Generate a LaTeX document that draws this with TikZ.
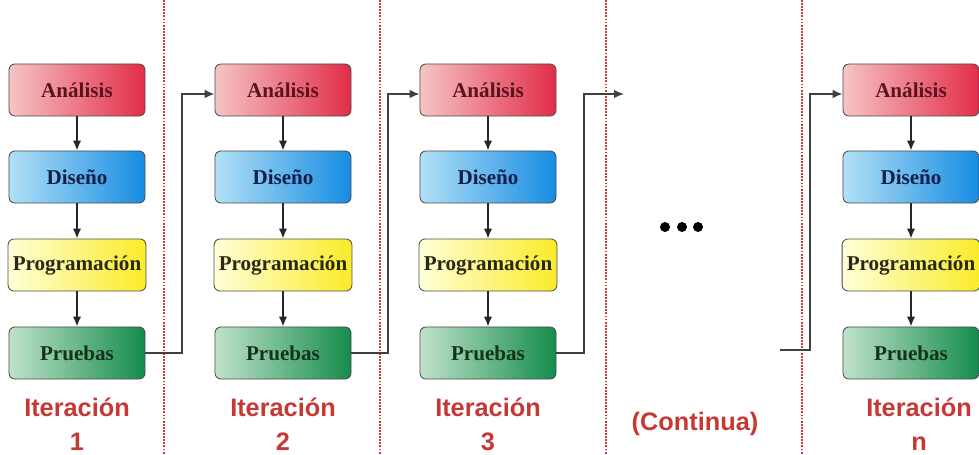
\documentclass[tikz,border=0pt]{standalone}
\usepackage{fontspec}
\usetikzlibrary{arrows.meta}
\setmainfont{Liberation Serif}
\newfontfamily\lblfont{Liberation Sans}

\definecolor{lblred}{RGB}{198,56,52}
\definecolor{sepred}{RGB}{205,60,60}

\tikzset{
  box/.style={draw=black!70,line width=0.6pt,rounded corners=0.15cm,
    minimum width=3.4cm,minimum height=1.3cm,
    font=\fontsize{15}{16}\selectfont\bfseries},
  anal/.style={box,left color={rgb,255:red,246;green,196;blue,196},
    right color={rgb,255:red,226;green,45;blue,72},text={rgb,255:red,90;green,20;blue,30}},
  dis/.style={box,left color={rgb,255:red,178;green,224;blue,246},
    right color={rgb,255:red,22;green,140;blue,226},text={rgb,255:red,20;green,30;blue,75}},
  prog/.style={box,left color={rgb,255:red,255;green,255;blue,216},
    right color={rgb,255:red,250;green,235;blue,40},text={rgb,255:red,40;green,40;blue,20}},
  prueb/.style={box,left color={rgb,255:red,192;green,226;blue,202},
    right color={rgb,255:red,20;green,140;blue,75},text={rgb,255:red,20;green,50;blue,30}},
  itlabel/.style={text=lblred,align=center,font=\lblfont\fontsize{18}{24}\selectfont\bfseries},
  sep/.style={sepred,line width=1pt,dash pattern=on 1.3pt off 0.9pt},
  flow/.style={->,black!85,line width=1.3pt},
  link/.style={black!75,line width=1.1pt}
}

\begin{document}
\begin{tikzpicture}[x=0.025cm,y=-0.025cm,>={Latex[length=7pt,width=6pt]}]
    \useasboundingbox (0,0) rectangle (979,454);
    % separators
    \draw[sep] (164,0) -- (164,454);
    \draw[sep] (380,0) -- (380,454);
    \draw[sep] (606,0) -- (606,454);
    \draw[sep] (802,0) -- (802,454);
    % iteration 1
    \node[anal] (a1) at (77,90) {Análisis};
    \node[dis] (d1) at (77,177) {Diseño};
    \node[prog] (g1) at (77,265) {Programación};
    \node[prueb] (p1) at (77,353) {Pruebas};
    % iteration 2
    \node[anal] (a2) at (283,90) {Análisis};
    \node[dis] (d2) at (283,177) {Diseño};
    \node[prog] (g2) at (283,265) {Programación};
    \node[prueb] (p2) at (283,353) {Pruebas};
    % iteration 3
    \node[anal] (a3) at (488,90) {Análisis};
    \node[dis] (d3) at (488,177) {Diseño};
    \node[prog] (g3) at (488,265) {Programación};
    \node[prueb] (p3) at (488,353) {Pruebas};
    % iteration n
    \node[anal] (an) at (911,90) {Análisis};
    \node[dis] (dn) at (911,177) {Diseño};
    \node[prog] (gn) at (911,265) {Programación};
    \node[prueb] (pn) at (911,353) {Pruebas};
    % inside each iteration
    \draw[flow] (a1) -- (d1);
    \draw[flow] (d1) -- (g1);
    \draw[flow] (g1) -- (p1);
    \draw[flow] (a2) -- (d2);
    \draw[flow] (d2) -- (g2);
    \draw[flow] (g2) -- (p2);
    \draw[flow] (a3) -- (d3);
    \draw[flow] (d3) -- (g3);
    \draw[flow] (g3) -- (p3);
    \draw[flow] (an) -- (dn);
    \draw[flow] (dn) -- (gn);
    \draw[flow] (gn) -- (pn);
    % from one iteration to the next
    \coordinate (c3) at (624,94);
    \coordinate (cn) at (780,350);
    \draw[link,->] (p1.east) -- (182,353) |- ([yshift=-0.1cm]a2.west);
    \draw[link,->] (p2.east) -- (388,353) |- ([yshift=-0.1cm]a3.west);
    \draw[link,->] (p3.east) -- (584,353) |- (c3);
    \draw[link,->] (cn) -- (810,350) |- ([yshift=-0.1cm]an.west);
    % dots
    \fill (665,227) circle (5);
    \fill (682,227) circle (5);
    \fill (698,227) circle (5);
    % labels
    \node[itlabel] (l1) at (77,424) {Iteración\\1};
    \node[itlabel] (l2) at (283,424) {Iteración\\2};
    \node[itlabel] (l3) at (488,424) {Iteración\\3};
    \node[itlabel] (lc) at (695,424) {(Continua)};
    \node[itlabel] (ln) at (919,424) {Iteración\\n};
\end{tikzpicture}
\end{document}
